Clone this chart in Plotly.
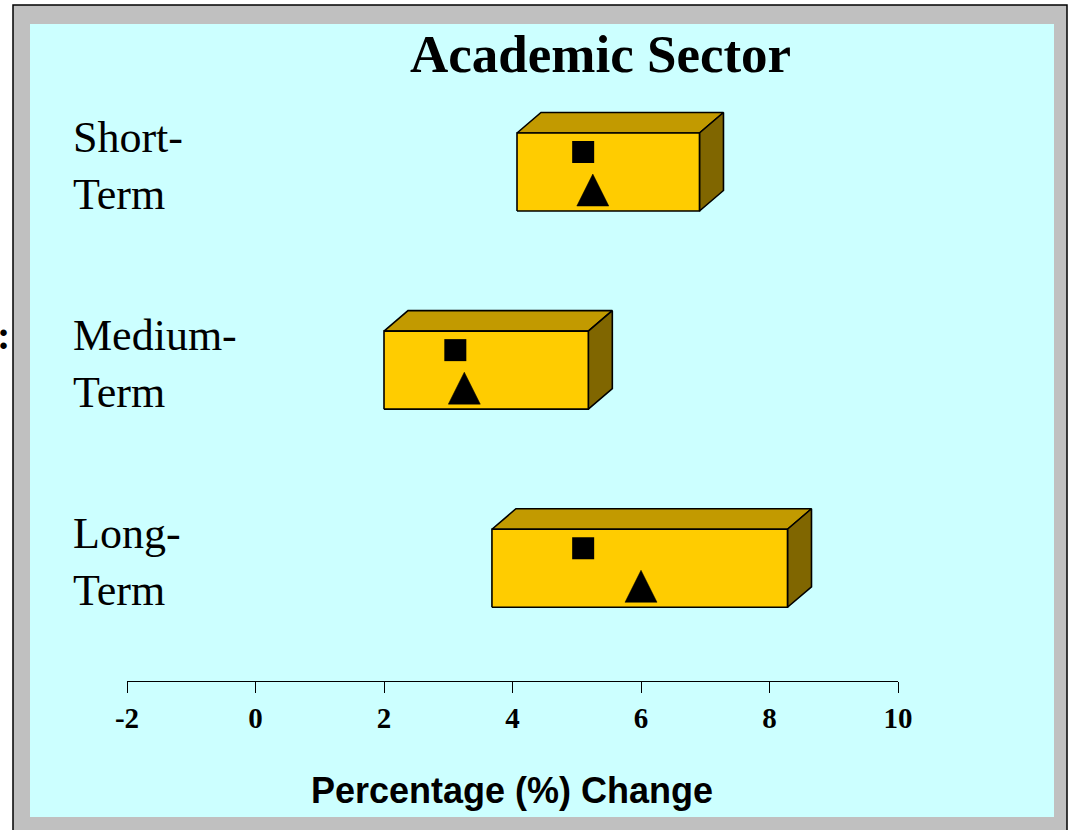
import plotly.graph_objects as go

# ---------------- data ----------------
categories = ["Short-<br>Term", "Medium-<br>Term", "Long-<br>Term"]
row_pos = [2, 1, 0]
range_low = [4.07, 2.0, 3.68]
range_high = [6.91, 5.18, 8.28]
square_vals = [5.10, 3.11, 5.10]
triangle_vals = [5.25, 3.25, 6.00]
tick_vals = [-2, 0, 2, 4, 6, 8, 10]
tick_text = ["-2", "0", "2", "4", "6", "8", "10"]

# ---------------- geometry / style ----------------
W, H = 1071, 830
PX_L, PX_R = 127, 898      # x axis extent in pixels
PY_T, PY_B = 24, 681       # plot area top / bottom in pixels
X_RANGE = [-2, 10]
Y_RANGE = [-0.569, 2.747]

ppx = (PX_R - PX_L) / (X_RANGE[1] - X_RANGE[0])   # px per x unit
ppy = (PY_B - PY_T) / (Y_RANGE[1] - Y_RANGE[0])   # px per y unit


def dxu(px):
    return px / ppx


def dyu(px):
    return px / ppy


def fx(px):
    return px / W


def fy(py):
    return 1 - py / H


HALF_H = 39      # half height of front face (px)
DEPTH_X = 24     # 3d depth offset (px)
DEPTH_Y = 20.5
SQ_OFF = 20      # square centre above row centre (px)
TRI_BASE = 34    # triangle base below row centre (px)
TRI_H = 32
TRI_W = 32

FRONT = "#FFCC00"
TOP = "#C29A00"
SIDE = "#806600"
CYAN = "#CCFFFF"
GRAY = "#C0C0C0"

SERIF = "Liberation Serif, Times New Roman, serif"
SANS = "Liberation Sans, Arial, sans-serif"

fig = go.Figure()

for c, lo, hi in zip(row_pos, range_low, range_high):
    yt = c + dyu(HALF_H)
    yb = c - dyu(HALF_H)
    ddx, ddy = dxu(DEPTH_X), dyu(DEPTH_Y)
    faces = [
        ([lo, hi, hi + ddx, lo + ddx, lo], [yt, yt, yt + ddy, yt + ddy, yt], TOP),
        ([hi, hi, hi + ddx, hi + ddx, hi], [yt, yb, yb + ddy, yt + ddy, yt], SIDE),
        ([lo, hi, hi, lo, lo], [yb, yb, yt, yt, yb], FRONT),
    ]
    for xs, ys, col in faces:
        fig.add_trace(go.Scatter(
            x=xs, y=ys, mode="lines", fill="toself", fillcolor=col,
            line=dict(color="black", width=1.6), hoverinfo="skip",
            showlegend=False))

# squares
fig.add_trace(go.Scatter(
    x=square_vals, y=[c + dyu(SQ_OFF) for c in row_pos], mode="markers",
    marker=dict(symbol="square", size=22, color="black", line=dict(width=0)),
    showlegend=False))

# triangles
tx, ty = [], []
for c, v in zip(row_pos, triangle_vals):
    yb = c - dyu(TRI_BASE)
    tx += [v - dxu(TRI_W / 2), v + dxu(TRI_W / 2), v, v - dxu(TRI_W / 2), None]
    ty += [yb, yb, yb + dyu(TRI_H), yb, None]
fig.add_trace(go.Scatter(
    x=tx, y=ty, mode="lines", fill="toself", fillcolor="black",
    line=dict(color="black", width=0.5), hoverinfo="skip", showlegend=False))

shapes = [
    dict(type="rect", xref="paper", yref="paper", x0=fx(13), x1=fx(1067),
         y0=fy(845), y1=fy(5), fillcolor=GRAY, line=dict(color="black", width=1.5),
         layer="below"),
    dict(type="rect", xref="paper", yref="paper", x0=fx(30), x1=fx(1054),
         y0=fy(817), y1=fy(24), fillcolor=CYAN, line=dict(width=0), layer="below"),
]

annotations = [
    dict(text="<b>Academic Sector</b>", xref="paper", yref="paper",
         x=fx(600), y=fy(54), xanchor="center", yanchor="middle", showarrow=False,
         font=dict(family=SERIF, size=53, color="black")),
    dict(text="<b>Percentage (%) Change</b>", xref="paper", yref="paper",
         x=fx(512), y=fy(790), xanchor="center", yanchor="middle", showarrow=False,
         font=dict(family=SANS, size=36, color="black")),
    dict(text="<b>:</b>", xref="paper", yref="paper",
         x=fx(3), y=fy(335), xanchor="center", yanchor="middle", showarrow=False,
         font=dict(family=SERIF, size=40, color="black")),
]
for c, lab in zip(row_pos, categories):
    annotations.append(dict(
        text=lab, xref="paper", yref="y", x=fx(71), y=c, yshift=6,
        xanchor="left", yanchor="middle", align="left", showarrow=False,
        font=dict(family=SERIF, size=44, color="black")))

fig.update_layout(
    template="none",
    width=W, height=H,
    autosize=False,
    margin=dict(l=0, r=0, t=0, b=0, pad=0, autoexpand=False),
    paper_bgcolor="white",
    plot_bgcolor="rgba(0,0,0,0)",
    showlegend=False,
    shapes=shapes,
    annotations=annotations,
    xaxis=dict(domain=[fx(PX_L), fx(PX_R)], range=X_RANGE, tickvals=tick_vals,
               ticktext=tick_text, showgrid=False, zeroline=False, showline=True,
               linecolor="black", linewidth=1, ticks="outside", ticklen=11,
               tickcolor="black", tickwidth=1, ticklabelstandoff=0,
               automargin=False,
               tickfont=dict(family=SERIF, size=29, color="black", weight="bold"),
               fixedrange=True),
    yaxis=dict(domain=[fy(PY_B), fy(PY_T)], range=Y_RANGE, visible=False,
               automargin=False, showgrid=False, zeroline=False, fixedrange=True),
)

fig.write_html(
    "out.html",
    config={"responsive": False, "displayModeBar": False},
    post_script="document.body.style.margin='0';document.body.style.overflow='hidden';",
)
